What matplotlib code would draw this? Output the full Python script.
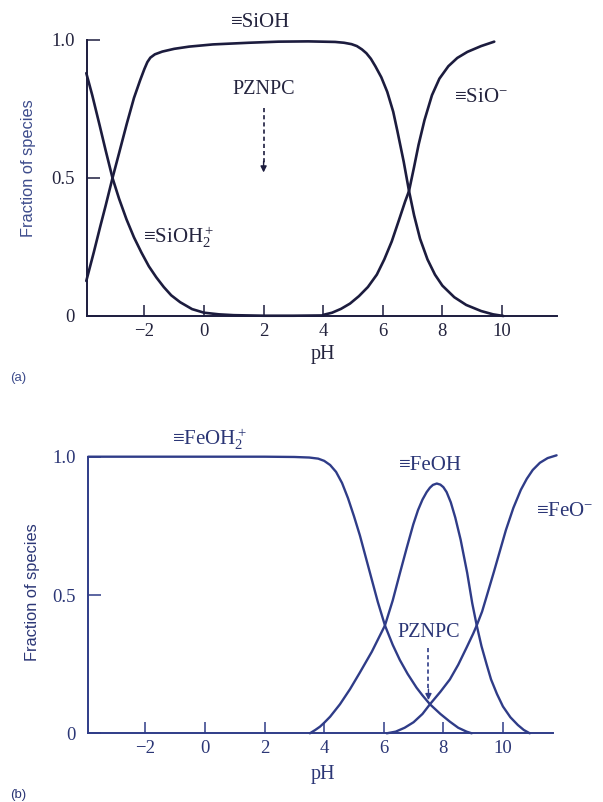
import matplotlib
matplotlib.use("Agg")
import matplotlib.pyplot as plt

plt.rcParams['font.family'] = ['Liberation Serif', 'DejaVu Serif']
plt.rcParams['mathtext.fontset'] = 'custom'
plt.rcParams['mathtext.rm'] = 'Liberation Serif'
plt.rcParams['mathtext.it'] = 'Liberation Serif:italic'
plt.rcParams['mathtext.bf'] = 'Liberation Serif:bold'

# ---------------- (a) silica surface speciation ----------------
sioh2_ph = [-3.95, -3.75, -3.5, -3.3, -3.07, -2.85, -2.6, -2.35, -2.1, -1.85,
            -1.6, -1.35, -1.1, -0.8, -0.4, 0.0, 0.5, 1.0, 2.0, 3.0, 4.0]
sioh2_frac = [0.88, 0.80, 0.69, 0.60, 0.50, 0.425, 0.35, 0.285, 0.23, 0.18,
              0.14, 0.105, 0.075, 0.05, 0.025, 0.012, 0.006, 0.003, 0.001,
              0.001, 0.002]

sioh_ph = [-3.95, -3.7, -3.48, -3.3, -3.07, -2.85, -2.59, -2.35, -2.14, -2.0,
           -1.9, -1.8, -1.65, -1.4, -1.0, -0.5, 0.3, 1.5, 2.5, 3.5, 4.4, 4.7,
           4.95, 5.13, 5.3, 5.45, 5.6, 5.75, 5.95, 6.15, 6.35, 6.49, 6.7, 6.88,
           7.05, 7.25, 7.5, 7.75, 8.0, 8.4, 8.8, 9.3, 9.7, 10.05]
sioh_frac = [0.127, 0.23, 0.325, 0.40, 0.50, 0.59, 0.697, 0.79, 0.855, 0.895,
             0.92, 0.936, 0.948, 0.958, 0.968, 0.976, 0.984, 0.99, 0.994, 0.995,
             0.993, 0.99, 0.985, 0.978, 0.966, 0.952, 0.932, 0.905, 0.865,
             0.812, 0.74, 0.67, 0.56, 0.453, 0.365, 0.28, 0.205, 0.15, 0.11,
             0.068, 0.04, 0.018, 0.006, 0.0]

sio_ph = [4.0, 4.3, 4.6, 4.9, 5.2, 5.5, 5.8, 6.05, 6.3, 6.55, 6.75, 6.88, 7.05,
          7.2, 7.4, 7.65, 7.9, 8.2, 8.5, 8.84, 9.3, 9.74]
sio_frac = [0.004, 0.012, 0.026, 0.045, 0.072, 0.105, 0.15, 0.205, 0.27, 0.35,
            0.415, 0.453, 0.54, 0.62, 0.71, 0.80, 0.86, 0.905, 0.935, 0.957,
            0.978, 0.994]

pznpc_a = 2.0

# ---------------- (b) iron oxide surface speciation ----------------
feoh2_ph = [-3.92, 0.0, 2.0, 3.0, 3.5, 3.8, 4.0, 4.2, 4.4, 4.6, 4.8, 5.0, 5.2,
            5.4, 5.6, 5.8, 6.04, 6.3, 6.54, 6.8, 7.1, 7.3, 7.55, 7.9, 8.22,
            8.5, 8.78, 8.95]
feoh2_frac = [1.0, 1.0, 1.0, 0.999, 0.997, 0.993, 0.985, 0.97, 0.945, 0.905,
              0.85, 0.785, 0.715, 0.635, 0.555, 0.475, 0.39, 0.32, 0.265,
              0.215, 0.165, 0.137, 0.105, 0.07, 0.042, 0.02, 0.006, 0.0]

feoh_ph = [3.52, 3.7, 3.86, 4.0, 4.2, 4.53, 4.87, 5.2, 5.6, 6.04, 6.3, 6.54,
           6.77, 6.99, 7.15, 7.3, 7.44, 7.55, 7.65, 7.78, 7.9, 8.0, 8.11, 8.25,
           8.4, 8.58, 8.8, 8.97, 9.12, 9.28, 9.45, 9.6, 9.8, 10.0, 10.25, 10.5,
           10.7, 10.9]
feoh_frac = [0.0, 0.012, 0.024, 0.038, 0.06, 0.105, 0.16, 0.22, 0.295, 0.39,
             0.48, 0.578, 0.67, 0.755, 0.807, 0.845, 0.872, 0.888, 0.898,
             0.903, 0.899, 0.89, 0.872, 0.835, 0.78, 0.70, 0.58, 0.47, 0.39,
             0.315, 0.25, 0.195, 0.142, 0.097, 0.058, 0.03, 0.012, 0.0]

feo_ph = [6.1, 6.4, 6.7, 7.0, 7.3, 7.55, 7.9, 8.22, 8.5, 8.78, 9.0, 9.12, 9.3,
          9.45, 9.7, 9.9, 10.1, 10.35, 10.6, 10.8, 11.0, 11.24, 11.5, 11.8]
feo_frac = [0.0, 0.006, 0.02, 0.04, 0.07, 0.105, 0.15, 0.195, 0.248, 0.31,
            0.36, 0.39, 0.44, 0.494, 0.585, 0.66, 0.735, 0.815, 0.88, 0.92,
            0.952, 0.978, 0.995, 1.005]

pznpc_b = 7.5

# ---------------- shared axis labelling ----------------
x_ticks = [-2, 0, 2, 4, 6, 8, 10]
x_tick_labels = ['\u22122', '0', '2', '4', '6', '8', '10']
y_ticks = [0, 0.5, 1.0]
y_tick_labels = ['0', '0.5', '1.0']

W, H = 603, 802
fig = plt.figure(figsize=(W / 100, H / 100), dpi=100)
fig.patch.set_facecolor('white')

SANS = ['Liberation Sans Narrow', 'Liberation Sans', 'DejaVu Sans']


def px_box(left, top, right, bottom):
    return [left / W, 1 - bottom / H, (right - left) / W, (bottom - top) / H]


def style_axes(ax, line_col, text_col, xlim):
    ax.set_xlim(*xlim)
    ax.set_ylim(0, 1.0)
    for s in ('top', 'right'):
        ax.spines[s].set_visible(False)
    for s in ('left', 'bottom'):
        ax.spines[s].set_color(line_col)
        ax.spines[s].set_linewidth(1.4)
    ax.set_xticks(x_ticks)
    ax.set_xticklabels(x_tick_labels)
    ax.set_yticks(y_ticks)
    ax.set_yticklabels(y_tick_labels)
    ax.tick_params(axis='x', direction='in', length=8, width=1.1,
                   color=line_col, labelcolor=text_col, labelsize=13.5, pad=5)
    ax.tick_params(axis='y', direction='in', length=9, width=1.1,
                   color=line_col, labelcolor=text_col, labelsize=13.5, pad=9)
    ax.patch.set_alpha(0)


def pz_arrow(ax, x, y_top, y_tip, col):
    ax.plot([x, x], [y_top, y_tip + 0.035], color=col, lw=1.2,
            ls=(0, (2.5, 1.8)), clip_on=False)
    ax.annotate('', xy=(x, y_tip), xytext=(x, y_tip + 0.04),
                arrowprops=dict(arrowstyle='-|>', color=col, lw=1.0,
                                mutation_scale=9, shrinkA=0, shrinkB=0))


# ---------------- panel (a) ----------------
col_a = '#1c1c3e'
txt_a = '#24243e'
lab_a = '#3d4c8c'
ax1 = fig.add_axes(px_box(87, 40, 557, 316))
style_axes(ax1, col_a, txt_a, (-3.926, 11.846))
for xs, ys in ((sioh2_ph, sioh2_frac), (sioh_ph, sioh_frac), (sio_ph, sio_frac)):
    ax1.plot(xs, ys, color=col_a, lw=1.9, clip_on=False,
             solid_capstyle='round', solid_joinstyle='round')

ax1.text(1.9, 1.065, '\u2261SiOH', color=txt_a, fontsize=15,
         ha='center', va='center')
ax1.text(-2.05, 0.264, '\u2261SiOH$_2^+$', color=txt_a, fontsize=15,
         ha='left', va='baseline')
ax1.text(8.4, 0.775, '\u2261SiO$^{-}$', color=txt_a, fontsize=15,
         ha='left', va='baseline')
ax1.text(pznpc_a, 0.82, 'PZNPC', color=txt_a, fontsize=14.5,
         ha='center', va='center')
pz_arrow(ax1, pznpc_a, 0.755, 0.52, col_a)

fig.text(323 / W, 1 - 355 / H, 'pH', color=txt_a, fontsize=14.5,
         ha='center', va='center')
fig.text(29 / W, 1 - 168 / H, 'Fraction of species', color=lab_a,
         fontsize=11.8, rotation=90, ha='center', va='center', family=SANS)
fig.text(18 / W, 1 - 378 / H, '(a)', color=lab_a, fontsize=9.5,
         ha='center', va='center', family=SANS)

# ---------------- panel (b) ----------------
col_b = '#2f3c88'
txt_b = '#2b3676'
ax2 = fig.add_axes(px_box(88, 456.7, 553, 733.3))
style_axes(ax2, col_b, txt_b, (-3.926, 11.68))
for xs, ys in ((feoh2_ph, feoh2_frac), (feoh_ph, feoh_frac), (feo_ph, feo_frac)):
    ax2.plot(xs, ys, color=col_b, lw=1.7, clip_on=False,
             solid_capstyle='round', solid_joinstyle='round')

ax2.text(-1.1, 1.042, '\u2261FeOH$_2^+$', color=txt_b, fontsize=15,
         ha='left', va='baseline')
ax2.text(6.5, 0.952, '\u2261FeOH', color=txt_b, fontsize=15,
         ha='left', va='baseline')
ax2.text(11.1, 0.786, '\u2261FeO$^{-}$', color=txt_b, fontsize=15,
         ha='left', va='baseline')
ax2.text(pznpc_b + 0.02, 0.366, 'PZNPC', color=txt_b, fontsize=14.5,
         ha='center', va='center')
pz_arrow(ax2, pznpc_b, 0.31, 0.12, col_b)

fig.text(323 / W, 1 - 775 / H, 'pH', color=txt_b, fontsize=14.5,
         ha='center', va='center')
fig.text(33 / W, 1 - 592 / H, 'Fraction of species', color=txt_b,
         fontsize=11.8, rotation=90, ha='center', va='center', family=SANS)
fig.text(18 / W, 1 - 795 / H, '(b)', color=txt_b, fontsize=9.5,
         ha='center', va='center', family=SANS)

fig.savefig('out.png', dpi=100, facecolor='white')
